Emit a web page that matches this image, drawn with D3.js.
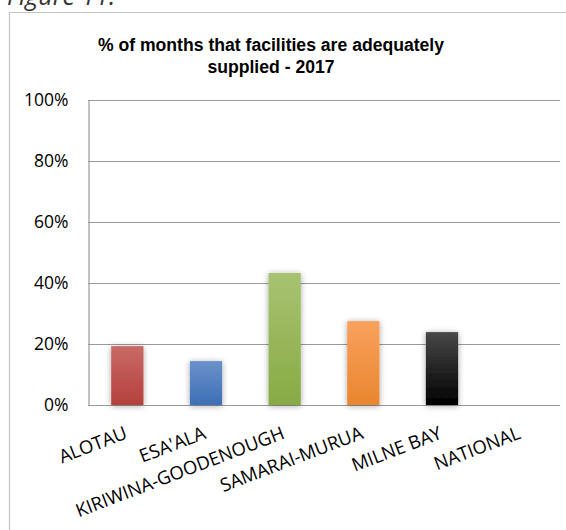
<!DOCTYPE html>
<html>
<head>
<meta charset="utf-8">
<script src="https://cdn.jsdelivr.net/npm/d3@7"></script>
<style>
  html, body { margin: 0; padding: 0; background: #fff; overflow: hidden; }
  svg { display: block; }
</style>
</head>
<body>
<svg id="chart" width="566" height="530"></svg>
<script>
// Districts and their share of months adequately supplied (2017)
const categories = ["ALOTAU", "ESA'ALA", "KIRIWINA-GOODENOUGH", "SAMARAI-MURUA", "MILNE BAY", "NATIONAL"];
const values = [0.193, 0.144, 0.433, 0.275, 0.239, null];
const barColors = [
  ["#c86a66", "#b5403c"],
  ["#6b91ca", "#3d6fb6"],
  ["#a7c371", "#88aa44"],
  ["#f9a15d", "#e9862f"],
  ["#484848", "#000000"],
  ["#999999", "#777777"]
];
const yTicks = [0, 0.2, 0.4, 0.6, 0.8, 1.0];
const titleLines = ["% of months that facilities are adequately", "supplied - 2017"];

const svg = d3.select("#chart");
const defs = svg.append("defs");

// soft shadow behind each column
const shadow = defs.append("filter").attr("id", "colShadow")
  .attr("x", "-40%").attr("y", "-20%").attr("width", "180%").attr("height", "140%");
shadow.append("feDropShadow")
  .attr("dx", 0).attr("dy", 1).attr("stdDeviation", 3)
  .attr("flood-color", "#000").attr("flood-opacity", 0.35);

barColors.forEach((c, i) => {
  const g = defs.append("linearGradient").attr("id", "grad" + i)
    .attr("x1", 0).attr("y1", 0).attr("x2", 0).attr("y2", 1);
  g.append("stop").attr("offset", "0%").attr("stop-color", c[0]);
  g.append("stop").attr("offset", "100%").attr("stop-color", c[1]);
});

// caption above the chart frame (its top runs off the page)
svg.append("text")
  .attr("x", 7).attr("y", 5)
  .attr("font-family", "Open Sans, sans-serif")
  .attr("font-style", "italic")
  .attr("font-size", 25)
  .attr("fill", "#333")
  .text("Figure 11.");

// chart frame
svg.append("path")
  .attr("d", "M9.5,530 V12.5 H566")
  .attr("fill", "none")
  .attr("stroke", "#c4c4c4")
  .attr("stroke-width", 1.2);

const plot = { left: 88, right: 560, top: 100, bottom: 405 };

const x = d3.scaleBand()
  .domain(categories)
  .range([plot.left, plot.right])
  .paddingInner(0.59)
  .paddingOuter(0.295);

const y = d3.scaleLinear()
  .domain([0, 1])
  .range([plot.bottom, plot.top]);

// title
svg.append("text")
  .attr("x", 271).attr("y", 51)
  .attr("text-anchor", "middle")
  .attr("font-family", "Liberation Sans, Arial, sans-serif")
  .attr("font-weight", "bold")
  .attr("font-size", 17.6)
  .attr("fill", "#000")
  .selectAll("tspan")
  .data(titleLines)
  .join("tspan")
  .attr("x", 271)
  .attr("dy", (d, i) => i === 0 ? 0 : 22)
  .text(d => d);

// gridlines
svg.append("g")
  .selectAll("line")
  .data(yTicks)
  .join("line")
  .attr("x1", plot.left).attr("x2", plot.right)
  .attr("y1", d => Math.round(y(d)) + 0.5)
  .attr("y2", d => Math.round(y(d)) + 0.5)
  .attr("stroke", "#9a9a9a")
  .attr("stroke-width", 1.2);

// y axis
const yAxis = d3.axisLeft(y)
  .tickValues(yTicks)
  .tickFormat(d3.format(".0%"))
  .tickSize(0)
  .tickPadding(20);

const yG = svg.append("g")
  .attr("transform", `translate(${plot.left + 0.5},0)`)
  .call(yAxis);
yG.select(".domain").attr("stroke", "#9a9a9a").attr("stroke-width", 1.2);
yG.selectAll("text")
  .attr("font-family", "Open Sans, sans-serif")
  .attr("font-size", 17.5)
  .attr("fill", "#000");

// columns
svg.append("g")
  .selectAll("rect")
  .data(categories.map((c, i) => ({ c, v: values[i], i })).filter(d => d.v != null))
  .join("rect")
  .attr("x", d => x(d.c))
  .attr("width", x.bandwidth())
  .attr("y", d => y(d.v))
  .attr("height", d => y(0) - y(d.v))
  .attr("fill", d => `url(#grad${d.i})`)
  .attr("filter", "url(#colShadow)");

// category labels, rotated
const xAxis = d3.axisBottom(x).tickSize(0).tickPadding(0);
const xG = svg.append("g")
  .attr("transform", `translate(0,${plot.bottom})`)
  .call(xAxis);
xG.select(".domain").remove();
xG.selectAll("text")
  .attr("font-family", "Open Sans, sans-serif")
  .attr("font-size", 18.5)
  .attr("fill", "#000")
  .attr("text-anchor", "end")
  .attr("dy", 0)
  .attr("transform", "translate(1,33) rotate(-21)");
</script>
</body>
</html>
